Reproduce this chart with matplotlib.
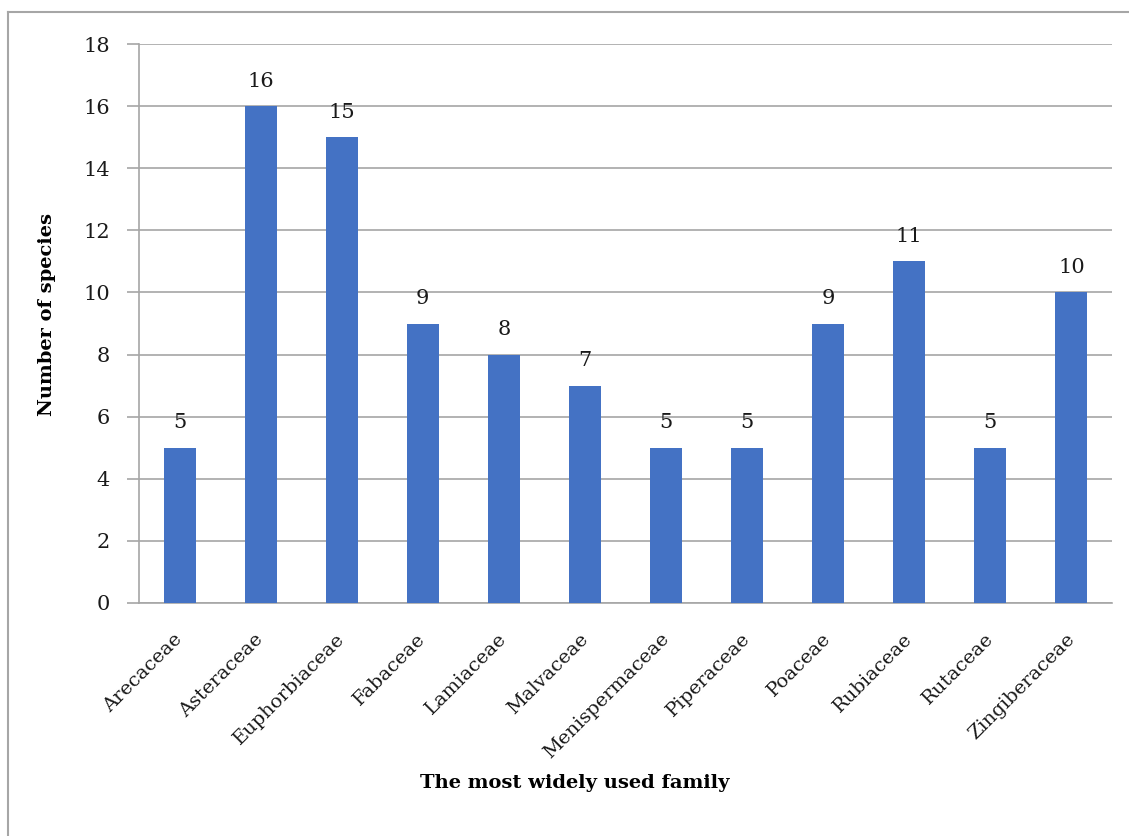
import matplotlib
matplotlib.use("Agg")
import matplotlib.pyplot as plt
from matplotlib.lines import Line2D

families = [
    "Arecaceae", "Asteraceae", "Euphorbiaceae", "Fabaceae", "Lamiaceae",
    "Malvaceae", "Menispermaceae", "Piperaceae", "Poaceae", "Rubiaceae",
    "Rutaceae", "Zingiberaceae",
]
species_counts = [5, 16, 15, 9, 8, 7, 5, 5, 9, 11, 5, 10]
y_ticks = [0, 2, 4, 6, 8, 10, 12, 14, 16, 18]

W, H = 1129, 836
plt.rcParams["font.family"] = ["DejaVu Serif"]

fig = plt.figure(figsize=(W / 100, H / 100), dpi=100)
ax = fig.add_axes([139 / W, 1 - 603 / H, (1112 - 139) / W, (603 - 44) / H])

x = list(range(len(families)))
ax.bar(x, species_counts, width=0.395, color="#4472C4", zorder=3)

for xi, v in zip(x, species_counts):
    ax.annotate(str(v), (xi, v), xytext=(0, 11), textcoords="offset points",
                ha="center", va="bottom", fontsize=15, color="#1a1a1a")

ax.set_xlim(-0.5, len(families) - 0.5)
ax.set_ylim(0, 18)
ax.set_yticks(y_ticks)
ax.set_yticklabels([str(t) for t in y_ticks], fontsize=15, color="#1a1a1a")
ax.set_xticks(x)
ax.set_xticklabels(families, rotation=45, ha="right", va="center",
                   rotation_mode="anchor", fontsize=14, color="#1a1a1a")

ax.grid(axis="y", color="#a6a6a6", linewidth=1.2, zorder=0)
for side in ["top", "right"]:
    ax.spines[side].set_visible(False)
ax.spines["left"].set_color("#a6a6a6")
ax.spines["bottom"].set_color("#a6a6a6")
ax.spines["left"].set_linewidth(1.2)
ax.spines["bottom"].set_linewidth(1.2)
ax.tick_params(axis="y", length=9, width=1.2, color="#a6a6a6", pad=12)
ax.tick_params(axis="x", length=0, pad=24)

fig.text(47 / W, 1 - 315 / H, "Number of species", rotation=90,
         ha="center", va="center", fontsize=14, fontweight="bold")
fig.text(575 / W, 1 - 783 / H, "The most widely used family",
         ha="center", va="center", fontsize=14, fontweight="bold")

# outer chart frame (top and left edges visible)
fig.add_artist(Line2D([8 / W, 1], [1 - 12 / H, 1 - 12 / H],
                      transform=fig.transFigure, color="#a6a6a6", linewidth=1.5))
fig.add_artist(Line2D([8 / W, 8 / W], [0, 1 - 12 / H],
                      transform=fig.transFigure, color="#a6a6a6", linewidth=1.5))

fig.savefig("out.png", dpi=100)
